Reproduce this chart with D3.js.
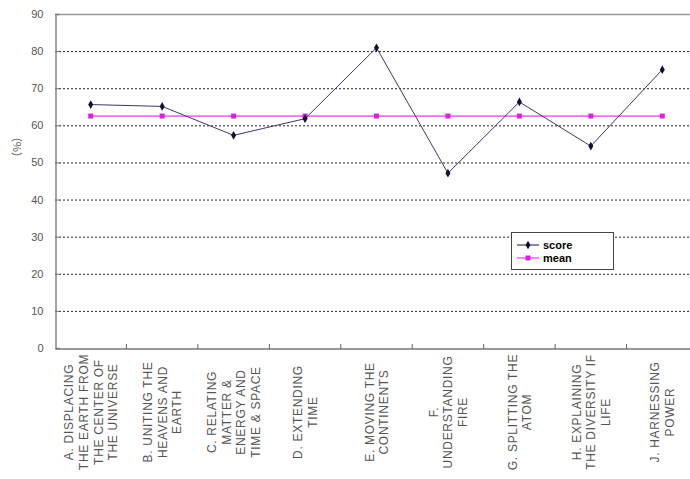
<!DOCTYPE html>
<html><head><meta charset="utf-8">
<script src="https://cdn.jsdelivr.net/npm/d3@7"></script>
<style>body{margin:0;background:#fff;overflow:hidden}svg{display:block}</style>
</head><body>
<svg id="c" width="690" height="479"></svg>
<script>
const categories = [
  ["A. DISPLACING","THE EARTH FROM","THE CENTER OF","THE UNIVERSE"],
  ["B. UNITING THE","HEAVENS AND","EARTH"],
  ["C. RELATING","MATTER &","ENERGY AND","TIME & SPACE"],
  ["D. EXTENDING","TIME"],
  ["E. MOVING THE","CONTINENTS"],
  ["F.","UNDERSTANDING","FIRE"],
  ["G. SPLITTING THE","ATOM"],
  ["H. EXPLAINING","THE DIVERSITY IF","LIFE"],
  ["J. HARNESSING","POWER"]
];
const scoreValues = [65.6, 65.1, 57.3, 61.8, 80.9, 47.1, 66.3, 54.4, 75.0];
const meanValues  = [62.5, 62.5, 62.5, 62.5, 62.5, 62.5, 62.5, 62.5, 62.5];
const yTicks = [0,10,20,30,40,50,60,70,80,90];
const seriesNames = ["score","mean"];

const svg = d3.select("#c");
const L = 55, T = 14, B = 348, R = 698;
const x = d3.scaleBand().domain(d3.range(categories.length)).range([L, R]).padding(0);
const y = d3.scaleLinear().domain([0, 90]).range([B, T]);
const cx = i => x(i) + x.bandwidth()/2;

// gridlines
svg.append("g").selectAll("line").data(yTicks.filter(t => t > 0 && t < 90)).join("line")
  .attr("x1", L).attr("x2", 690).attr("y1", d => y(d)+0.5).attr("y2", d => y(d)+0.5)
  .attr("stroke", "#222").attr("stroke-width", 1).attr("stroke-dasharray", "2,2");
// top border
svg.append("line").attr("x1", L).attr("x2", 690).attr("y1", y(90)+0.5).attr("y2", y(90)+0.5)
  .attr("stroke", "#999").attr("stroke-width", 1.5);

// y axis
const yAxis = d3.axisLeft(y).tickValues(yTicks).tickSize(-4).tickPadding(12);
const gy = svg.append("g").attr("transform", `translate(${L+0.5},0)`).call(yAxis);
gy.select(".domain").attr("stroke", "#888").attr("stroke-width", 1.5);
gy.selectAll(".tick line").attr("stroke", "#777");
gy.selectAll("text").attr("fill", "#555").style("font", "11px 'Liberation Sans', Arial, sans-serif");

// x axis
const xAxis = d3.axisBottom(x).tickSize(0).tickFormat("");
const gx = svg.append("g").attr("transform", `translate(0,${B+0.5})`).call(xAxis);
gx.select(".domain").attr("stroke", "#777").attr("stroke-width", 1.5);
svg.append("g").selectAll("line").data(d3.range(1, categories.length+1)).join("line")
  .attr("x1", i => L + i*x.bandwidth()).attr("x2", i => L + i*x.bandwidth())
  .attr("y1", B-4).attr("y2", B+1).attr("stroke", "#666");

// category labels
const lh = 14.7;
categories.forEach((lines, i) => {
  const g = svg.append("g").attr("transform", `translate(${cx(i)},412) rotate(-90)`);
  const n = lines.length;
  lines.forEach((s, k) => {
    g.append("text").attr("x", 0).attr("y", (k - (n-1)/2) * lh + 4.5)
      .attr("text-anchor", "middle").attr("fill", "#555")
      .style("font", "12px 'Liberation Sans', Arial, sans-serif")
      .style("letter-spacing", "0.7px")
      .text(s);
  });
});

// y label
svg.append("text").attr("transform", "translate(21,147) rotate(-90)")
  .attr("text-anchor", "middle").attr("fill", "#555")
  .style("font", "11px 'Noto Sans CJK JP', sans-serif").text("（%）");

// lines
const line = d3.line().x((d, i) => cx(i)).y(d => y(d));
svg.append("path").datum(meanValues).attr("d", line).attr("fill", "none")
  .attr("stroke", "#ff33ff").attr("stroke-width", 1.2);
svg.append("g").selectAll("rect").data(meanValues).join("rect")
  .attr("x", (d, i) => cx(i)-2.5).attr("y", d => y(d)-2.5).attr("width", 5).attr("height", 5)
  .attr("fill", "#e020e0");
svg.append("path").datum(scoreValues).attr("d", line).attr("fill", "none")
  .attr("stroke", "#3a3a6a").attr("stroke-width", 1);
svg.append("g").selectAll("path").data(scoreValues).join("path")
  .attr("d", d3.symbol().type(d3.symbolDiamond).size(22))
  .attr("transform", (d, i) => `translate(${cx(i)},${y(d)})`).attr("fill", "#111133");

// legend
const lg = svg.append("g");
lg.append("rect").attr("x", 511.5).attr("y", 232.5).attr("width", 102).attr("height", 37)
  .attr("fill", "#fff").attr("stroke", "#444").attr("stroke-width", 1);
seriesNames.forEach((name, k) => {
  const yy = 245 + k*13;
  lg.append("line").attr("x1", 517).attr("x2", 539).attr("y1", yy).attr("y2", yy)
    .attr("stroke", k === 0 ? "#3a3a6a" : "#ff33ff").attr("stroke-width", 1.2);
  if (k === 0) {
    lg.append("path").attr("d", d3.symbol().type(d3.symbolDiamond).size(22)())
      .attr("transform", `translate(528,${yy})`).attr("fill", "#111133");
  } else {
    lg.append("rect").attr("x", 525.5).attr("y", yy-2.5).attr("width", 5).attr("height", 5).attr("fill", "#e020e0");
  }
  lg.append("text").attr("x", 543).attr("y", yy+4).attr("fill", "#000")
    .style("font", "bold 11px 'Liberation Sans', Arial, sans-serif").text(name);
});
</script>
</body></html>
